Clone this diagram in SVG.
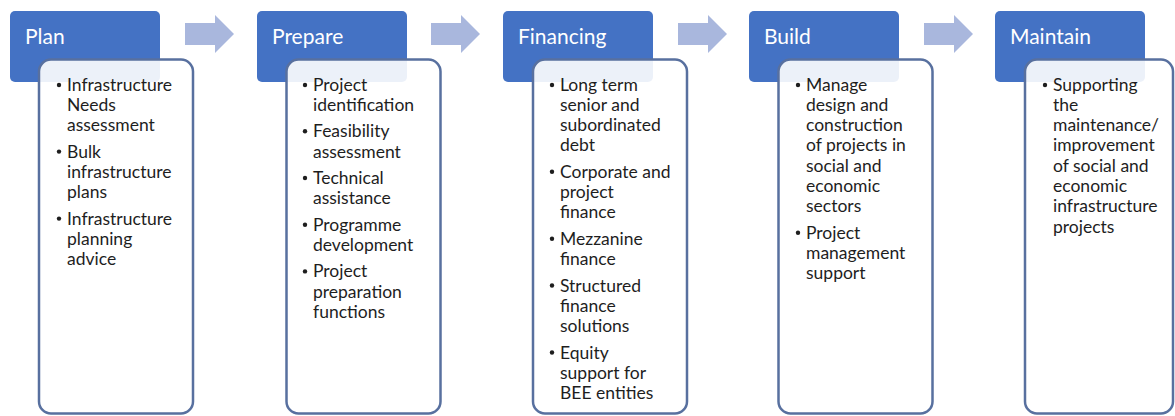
<svg xmlns="http://www.w3.org/2000/svg" width="1175" height="416" viewBox="0 0 1175 416">
<style>
.hdr{fill:#4472c4;}
.hdrtxt{fill:#ffffff;font-family:Lato,"Liberation Sans",sans-serif;font-size:21px;}
.body{fill:#ffffff;fill-opacity:0.9;stroke:#58709f;stroke-width:2.5;}
.txt{fill:#1e1e1e;font-family:Lato,"Liberation Sans",sans-serif;font-size:17.5px;}
.bul{fill:#1e1e1e;}
.arrow{fill:#a9b7dd;}
</style>
<rect width="1175" height="416" fill="#ffffff"/>
<g id="connectors">
<polygon class="arrow" points="185,23 215,23 215,15 234,34 215,53 215,45 185,45"/>
<polygon class="arrow" points="431,23 461,23 461,15 480,34 461,53 461,45 431,45"/>
<polygon class="arrow" points="678,23 708,23 708,15 727,34 708,53 708,45 678,45"/>
<polygon class="arrow" points="924,23 954,23 954,15 973,34 954,53 954,45 924,45"/>
</g>
<g id="plan">
<rect class="hdr" x="10" y="11" width="150" height="71" rx="5"/>
<text class="hdrtxt" x="25" y="44">Plan</text>
<rect class="body" x="39" y="59.5" width="154" height="354" rx="12"/>
<circle class="bul" cx="59" cy="85" r="2.2"/>
<text class="txt" x="67"><tspan x="67" y="90.5">Infrastructure</tspan><tspan x="67" y="110.8">Needs</tspan><tspan x="67" y="131.1">assessment</tspan></text>
<circle class="bul" cx="59" cy="151.6" r="2.2"/>
<text class="txt"><tspan x="67" y="157.6">Bulk</tspan><tspan x="67" y="177.9">infrastructure</tspan><tspan x="67" y="198.2">plans</tspan></text>
<circle class="bul" cx="59" cy="218.6" r="2.2"/>
<text class="txt"><tspan x="67" y="224.6">Infrastructure</tspan><tspan x="67" y="244.9">planning</tspan><tspan x="67" y="265.2">advice</tspan></text>
</g>
<g id="prepare">
<rect class="hdr" x="257" y="11" width="150" height="71" rx="5"/>
<text class="hdrtxt" x="272" y="44">Prepare</text>
<rect class="body" x="286.5" y="59.5" width="154" height="354" rx="12"/>
<circle class="bul" cx="305" cy="85" r="2.2"/>
<text class="txt"><tspan x="313" y="90.5">Project</tspan><tspan x="313" y="110.8">identification</tspan></text>
<circle class="bul" cx="305" cy="131.3" r="2.2"/>
<text class="txt"><tspan x="313" y="137.3">Feasibility</tspan><tspan x="313" y="157.6">assessment</tspan></text>
<circle class="bul" cx="305" cy="178" r="2.2"/>
<text class="txt"><tspan x="313" y="184">Technical</tspan><tspan x="313" y="204.3">assistance</tspan></text>
<circle class="bul" cx="305" cy="224.7" r="2.2"/>
<text class="txt"><tspan x="313" y="230.7">Programme</tspan><tspan x="313" y="251">development</tspan></text>
<circle class="bul" cx="305" cy="271.4" r="2.2"/>
<text class="txt"><tspan x="313" y="277.4">Project</tspan><tspan x="313" y="297.7">preparation</tspan><tspan x="313" y="318">functions</tspan></text>
</g>
<g id="financing">
<rect class="hdr" x="503" y="11" width="150" height="71" rx="5"/>
<text class="hdrtxt" x="518" y="44">Financing</text>
<rect class="body" x="533" y="59.5" width="154" height="354" rx="12"/>
<circle class="bul" cx="552" cy="85" r="2.2"/>
<text class="txt"><tspan x="560" y="90.5">Long term</tspan><tspan x="560" y="110.8">senior and</tspan><tspan x="560" y="131.1">subordinated</tspan><tspan x="560" y="151.4">debt</tspan></text>
<circle class="bul" cx="552" cy="171.8" r="2.2"/>
<text class="txt"><tspan x="560" y="177.8">Corporate and</tspan><tspan x="560" y="198.1">project</tspan><tspan x="560" y="218.4">finance</tspan></text>
<circle class="bul" cx="552" cy="238.8" r="2.2"/>
<text class="txt"><tspan x="560" y="244.8">Mezzanine</tspan><tspan x="560" y="265.1">finance</tspan></text>
<circle class="bul" cx="552" cy="285.5" r="2.2"/>
<text class="txt"><tspan x="560" y="291.5">Structured</tspan><tspan x="560" y="311.8">finance</tspan><tspan x="560" y="332.1">solutions</tspan></text>
<circle class="bul" cx="552" cy="352.5" r="2.2"/>
<text class="txt"><tspan x="560" y="358.5">Equity</tspan><tspan x="560" y="378.8">support for</tspan><tspan x="560" y="399.1">BEE entities</tspan></text>
</g>
<g id="build">
<rect class="hdr" x="749" y="11" width="150" height="71" rx="5"/>
<text class="hdrtxt" x="764" y="44">Build</text>
<rect class="body" x="778.5" y="59.5" width="154" height="354" rx="12"/>
<circle class="bul" cx="798" cy="85" r="2.2"/>
<text class="txt"><tspan x="806" y="90.5">Manage</tspan><tspan x="806" y="110.8">design and</tspan><tspan x="806" y="131.1">construction</tspan><tspan x="806" y="151.4">of projects in</tspan><tspan x="806" y="171.7">social and</tspan><tspan x="806" y="192">economic</tspan><tspan x="806" y="212.3">sectors</tspan></text>
<circle class="bul" cx="798" cy="232.7" r="2.2"/>
<text class="txt"><tspan x="806" y="238.7">Project</tspan><tspan x="806" y="259">management</tspan><tspan x="806" y="279.3">support</tspan></text>
</g>
<g id="maintain">
<rect class="hdr" x="995" y="11" width="150" height="71" rx="5"/>
<text class="hdrtxt" x="1010" y="44">Maintain</text>
<rect class="body" x="1025" y="59.5" width="148" height="354" rx="12"/>
<circle class="bul" cx="1045" cy="85" r="2.2"/>
<text class="txt"><tspan x="1053" y="90.5">Supporting</tspan><tspan x="1053" y="110.8">the</tspan><tspan x="1053" y="131.1">maintenance/</tspan><tspan x="1053" y="151.4">improvement</tspan><tspan x="1053" y="171.7">of social and</tspan><tspan x="1053" y="192">economic</tspan><tspan x="1053" y="212.3">infrastructure</tspan><tspan x="1053" y="232.6">projects</tspan></text>
</g>
</svg>
